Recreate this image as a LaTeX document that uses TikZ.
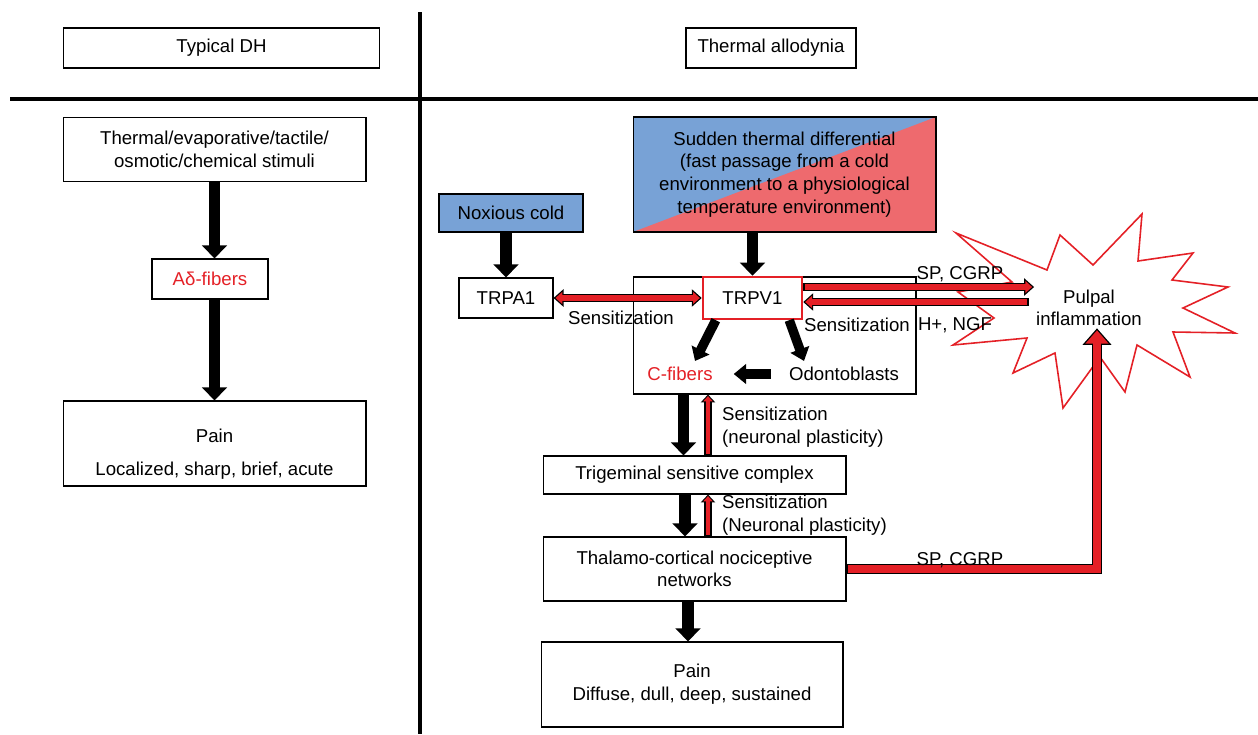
\documentclass[tikz,border=0pt]{standalone}
\usepackage{fontspec}
\setmainfont{Liberation Sans}
\usetikzlibrary{arrows.meta}

\definecolor{arrred}{RGB}{228,32,38}
\definecolor{coldblue}{RGB}{120,162,214}
\definecolor{warmred}{RGB}{238,106,110}

\tikzstyle{box}=[draw, line width=0.6pt, align=center, inner sep=2pt]
\tikzstyle{blk}=[draw=black, line width=6.6pt, -{Triangle[length=7.5pt,width=14pt]}]
\tikzstyle{blksm}=[draw=black, line width=5.4pt, -{Triangle[length=7pt,width=11pt]}]
% red block arrows = black rim + red core
\tikzstyle{redout}=[draw=black, line width=4.6pt, >={Triangle[length=5.7pt,width=9.7pt]}]
\tikzstyle{redin}=[draw=arrred, line width=3.2pt, >={Triangle[length=3.9pt,width=6.7pt]},
  shorten >=1.1pt, shorten <=1.1pt]
\tikzstyle{senout}=[draw=black, line width=4pt, >={Triangle[length=4.5pt,width=8pt]}]
\tikzstyle{senin}=[draw=arrred, line width=2.8pt, >={Triangle[length=3pt,width=5.3pt]},
  shorten >=0.9pt, shorten <=0.9pt]
\tikzstyle{bigout}=[draw=black, line width=5.7pt, line join=miter, >={Triangle[length=9.5pt,width=16pt]}]
\tikzstyle{bigin}=[draw=arrred, line width=4.2pt, line join=miter, >={Triangle[length=7.6pt,width=12.8pt]},
  shorten >=1.16pt, shorten <=0.75pt]

\begin{document}
\begin{tikzpicture}[x=0.02cm, y=-0.02cm, font=\fontsize{10.6}{12.9}\selectfont]
\useasboundingbox (0,0) rectangle (1258,734);
% dividers
\draw[line width=1.8pt] (420,12) -- (420,734);
\draw[line width=1.8pt] (10,99) -- (1258,99);
%
% Typical DH column
\node[box, minimum width=6.34cm, minimum height=0.8cm] (typdh) at (221.5,48) {Typical DH};
\node[box, minimum width=6.06cm, minimum height=1.28cm] (stim) at (214.5,149.5)
  {Thermal/evaporative/tactile/\\osmotic/chemical stimuli};
\node[box, minimum width=2.32cm, minimum height=0.8cm, text=arrred] (adelta) at (210,279) {Aδ-fibers};
\node[box, minimum width=6.06cm, minimum height=1.7cm,
  label={[align=center, yshift=-0.22cm]center:Pain\\[6pt]Localized, sharp, brief, acute}] (painl) at (214.5,443.5) {};
\draw[blk] (stim.south) -- (stim.south |- adelta.north);
\draw[blk] (adelta.south -| stim.south) -- (stim.south |- painl.north);
%
% Thermal allodynia column
\node[box, minimum width=3.4cm, minimum height=0.8cm] (allo) at (771,48) {Thermal allodynia};
\node[box, minimum width=6.06cm, minimum height=2.3cm, fill=coldblue,
  path picture={\fill[warmred] (path picture bounding box.south west) -- (path picture bounding box.north east)
    -- (path picture bounding box.south east) -- cycle;}] (sudden) at (784.5,174.5)
  {Sudden thermal differential\\(fast passage from a cold\\environment to a physiological\\temperature environment)};
\node[box, minimum width=2.88cm, minimum height=0.76cm, fill=coldblue] (cold) at (511,213) {Noxious cold};
\node[box, minimum width=1.88cm, minimum height=0.8cm] (trpa1) at (506,298) {TRPA1};
\node[box, minimum width=5.66cm, minimum height=2.34cm] (cbox) at (774.5,335.5) {};
\node[box, draw=arrred, line width=1.4pt, fill=white, minimum width=1.98cm, minimum height=0.84cm]
  (trpv1) at (752.5,298) {TRPV1};
\node[text=arrred] (cfib) at (680,374) {C-fibers};
\node (odo) at (844,374) {Odontoblasts};
\node[box, minimum width=6.06cm, minimum height=0.76cm] (trig) at (694.5,475) {Trigeminal sensitive complex};
\node[box, minimum width=6.06cm, minimum height=1.28cm] (thal) at (694.5,569)
  {Thalamo-cortical nociceptive\\networks};
\node[box, minimum width=6.04cm, minimum height=1.7cm] (painr) at (692,684.5)
  {Pain\\Diffuse, dull, deep, sustained};
%
% inflammation star
\draw[arrred, line width=0.9pt, fill=white, line join=miter]
  (956,233) -- (1047,270) -- (1060,235) -- (1093,265) -- (1142,214) -- (1138,261)
  -- (1193,253) -- (1172,280) -- (1228,287) -- (1183,308) -- (1235,333) -- (1173,332)
  -- (1190,377) -- (1137,345) -- (1125,392) -- (1100,357) -- (1063,408) -- (1055,353)
  -- (1013,373) -- (1027,338) -- (953,345) -- (994,318) -- (958,292) -- (1012,282) -- cycle;
\node[align=center, inner sep=1pt] (infl) at (1089,308) {Pulpal\\inflammation};
%
% black arrows
\draw[blk] (trpa1.north |- cold.south) -- (trpa1.north);
\draw[blk] (trpv1.north |- sudden.south) -- (trpv1.north);
\draw[blksm] ([xshift=0.28cm]trpv1.south west) -- ([xshift=0.3cm]cfib.north);
\draw[blksm] ([xshift=-0.28cm]trpv1.south east) -- ([xshift=-0.8cm]odo.north);
\draw[blksm, shorten <=7pt, shorten >=8.5pt] (odo.west) -- (cfib.east);
\draw[blk] ([xshift=-0.22cm]trig.north |- cbox.south) -- ([xshift=-0.22cm]trig.north);
\draw[blk] ([xshift=-0.19cm]trig.south) -- ([xshift=-0.19cm]trig.south |- thal.north);
\draw[blk] ([xshift=-0.13cm]thal.south) -- ([xshift=-0.13cm]thal.south |- painr.north);
%
% red arrows
\draw[redout, <->] (trpa1.east) -- (trpv1.west);
\draw[redin, <->] (trpa1.east) -- (trpv1.west);
\draw[redout, ->] ([yshift=0.22cm]trpv1.east) -- ([yshift=0.22cm]trpv1.east -| infl.west);
\draw[redin, ->] ([yshift=0.22cm]trpv1.east) -- ([yshift=0.22cm]trpv1.east -| infl.west);
\draw[redout, ->] ([yshift=-0.08cm, xshift=-0.1cm]trpv1.east -| infl.west) -- ([yshift=-0.08cm]trpv1.east);
\draw[redin, ->] ([yshift=-0.08cm, xshift=-0.1cm]trpv1.east -| infl.west) -- ([yshift=-0.08cm]trpv1.east);
\draw[senout, ->] ([xshift=0.27cm]trig.north) -- ([xshift=0.27cm]trig.north |- cbox.south);
\draw[senin, ->] ([xshift=0.27cm]trig.north) -- ([xshift=0.27cm]trig.north |- cbox.south);
\draw[senout, ->] ([xshift=0.27cm]thal.north) -- ([xshift=0.27cm]thal.north |- trig.south);
\draw[senin, ->] ([xshift=0.27cm]thal.north) -- ([xshift=0.27cm]thal.north |- trig.south);
\draw[bigout, ->] (thal.east) -| ([xshift=0.16cm]infl.south);
\draw[bigin, ->] (thal.east) -| ([xshift=0.16cm]infl.south);
%
% labels
\node (lsens1) at (621,318) {Sensitization};
\node (lsp1) at (960,274) {SP, CGRP};
\node (lsens2) at (857,325) {Sensitization};
\node (lngf) at (955,325) {H+, NGF};
\node[anchor=west, align=left] (lsens3) at (716,427) {Sensitization\\(neuronal plasticity)};
\node[anchor=west, align=left] (lsens4) at (716,515) {Sensitization\\(Neuronal plasticity)};
\node (lsp2) at (960,560) {SP, CGRP};
\end{tikzpicture}
\end{document}
